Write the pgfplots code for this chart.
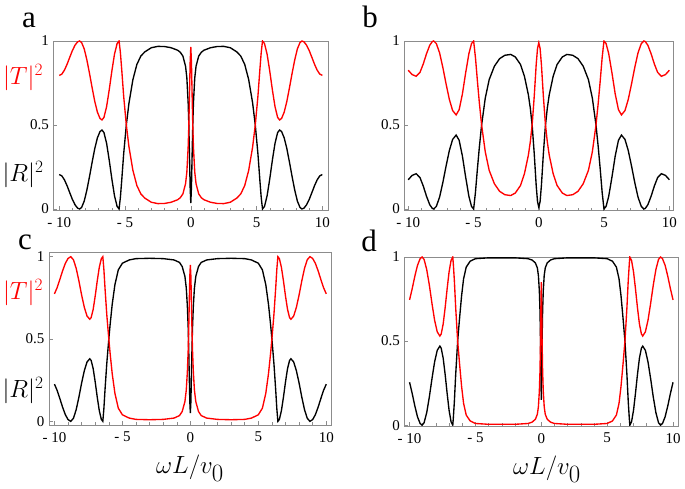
\documentclass[border=0pt]{standalone}
\usepackage{fontspec}
\setmainfont{Liberation Serif}
\usepackage{pgfplots}
\usepackage{pgfplotstable}
\pgfplotsset{compat=1.18}

% panel a
\pgfplotstableread{
x R T
-10 0.205 0.795
-9.8 0.197 0.803
-9.6 0.173 0.827
-9.4 0.138 0.862
-9.2 0.097 0.903
-9.0 0.057 0.943
-8.8 0.025 0.975
-8.6 0.005 0.995
-8.45 0 1
-8.3 0.009 0.991
-8.1 0.047 0.953
-7.9 0.112 0.888
-7.7 0.192 0.808
-7.5 0.278 0.722
-7.3 0.359 0.641
-7.1 0.423 0.577
-6.9 0.461 0.539
-6.75 0.47 0.53
-6.6 0.455 0.545
-6.4 0.391 0.609
-6.2 0.291 0.709
-6.0 0.179 0.821
-5.8 0.079 0.921
-5.6 0.015 0.985
-5.45 0 1
-5.35 0.07 0.93
-5.25 0.17 0.83
-5.1 0.33 0.67
-4.9 0.5 0.5
-4.7 0.63 0.37
-4.4 0.77 0.23
-4.1 0.86 0.14
-3.8 0.91 0.09
-3.5 0.935 0.065
-3.0 0.96 0.04
-2.5 0.968 0.032
-2.0 0.967 0.033
-1.5 0.96 0.04
-1.0 0.945 0.055
-0.8 0.933 0.067
-0.6 0.91 0.09
-0.4 0.85 0.15
-0.3 0.78 0.22
-0.2 0.63 0.37
-0.15 0.5 0.5
-0.1 0.32 0.68
-0.05 0.13 0.87
0 0.035 0.965
0.05 0.13 0.87
0.1 0.32 0.68
0.15 0.5 0.5
0.2 0.63 0.37
0.3 0.78 0.22
0.4 0.85 0.15
0.6 0.91 0.09
0.8 0.933 0.067
1.0 0.945 0.055
1.5 0.96 0.04
2.0 0.967 0.033
2.5 0.968 0.032
3.0 0.96 0.04
3.5 0.935 0.065
3.8 0.91 0.09
4.1 0.86 0.14
4.4 0.77 0.23
4.7 0.63 0.37
4.9 0.5 0.5
5.1 0.33 0.67
5.25 0.17 0.83
5.35 0.07 0.93
5.45 0 1
5.6 0.015 0.985
5.8 0.079 0.921
6.0 0.179 0.821
6.2 0.291 0.709
6.4 0.391 0.609
6.6 0.455 0.545
6.75 0.47 0.53
6.9 0.461 0.539
7.1 0.423 0.577
7.3 0.359 0.641
7.5 0.278 0.722
7.7 0.192 0.808
7.9 0.112 0.888
8.1 0.047 0.953
8.3 0.009 0.991
8.45 0 1
8.6 0.005 0.995
8.8 0.025 0.975
9.0 0.057 0.943
9.2 0.097 0.903
9.4 0.138 0.862
9.6 0.173 0.827
9.8 0.197 0.803
10 0.205 0.795
}\dataA

% panel b
\pgfplotstableread{
x R T
-10 0.174 0.826
-9.7 0.2 0.8
-9.39 0.21 0.79
-9.1 0.187 0.813
-8.85 0.137 0.863
-8.6 0.076 0.924
-8.35 0.025 0.975
-8.15 0.003 0.997
-8.05 0 1
-7.85 0.015 0.985
-7.6 0.07 0.93
-7.35 0.157 0.843
-7.1 0.256 0.744
-6.85 0.348 0.652
-6.6 0.414 0.586
-6.33 0.44 0.56
-6.1 0.409 0.591
-5.85 0.315 0.685
-5.6 0.189 0.811
-5.35 0.074 0.926
-5.15 0.015 0.985
-4.99 0 1
-4.85 0.1 0.9
-4.7 0.24 0.76
-4.55 0.37 0.63
-4.38 0.5 0.5
-4.1 0.66 0.34
-3.8 0.77 0.23
-3.4 0.85 0.15
-3.0 0.895 0.105
-2.6 0.915 0.085
-2.15 0.92 0.08
-1.8 0.905 0.095
-1.4 0.86 0.14
-1.1 0.79 0.21
-0.8 0.68 0.32
-0.65 0.6 0.4
-0.5 0.49 0.51
-0.35 0.33 0.67
-0.2 0.14 0.86
-0.1 0.045 0.955
0 0.01 0.99
0.1 0.045 0.955
0.2 0.14 0.86
0.35 0.33 0.67
0.5 0.49 0.51
0.65 0.6 0.4
0.8 0.68 0.32
1.1 0.79 0.21
1.4 0.86 0.14
1.8 0.905 0.095
2.15 0.92 0.08
2.6 0.915 0.085
3.0 0.895 0.105
3.4 0.85 0.15
3.8 0.77 0.23
4.1 0.66 0.34
4.38 0.5 0.5
4.55 0.37 0.63
4.7 0.24 0.76
4.85 0.1 0.9
4.99 0 1
5.15 0.015 0.985
5.35 0.074 0.926
5.6 0.189 0.811
5.85 0.315 0.685
6.1 0.409 0.591
6.33 0.44 0.56
6.6 0.414 0.586
6.85 0.348 0.652
7.1 0.256 0.744
7.35 0.157 0.843
7.6 0.07 0.93
7.85 0.015 0.985
8.05 0 1
8.15 0.003 0.997
8.35 0.025 0.975
8.6 0.076 0.924
8.85 0.137 0.863
9.1 0.187 0.813
9.39 0.21 0.79
9.7 0.2 0.8
10 0.174 0.826
}\dataB

% panel c
\pgfplotstableread{
x R T
-10 0.226 0.774
-9.8 0.188 0.812
-9.6 0.138 0.862
-9.4 0.086 0.914
-9.2 0.041 0.959
-9.0 0.011 0.989
-8.8 0 1
-8.6 0.019 0.981
-8.4 0.071 0.929
-8.2 0.147 0.853
-8.0 0.233 0.767
-7.8 0.308 0.692
-7.6 0.361 0.639
-7.4 0.38 0.62
-7.3 0.37 0.63
-7.15 0.32 0.68
-7.0 0.239 0.761
-6.85 0.147 0.853
-6.7 0.065 0.935
-6.55 0.012 0.988
-6.44 0 1
-6.36 0.08 0.92
-6.28 0.19 0.81
-6.15 0.35 0.65
-6.0 0.5 0.5
-5.9 0.59 0.41
-5.75 0.71 0.29
-5.55 0.83 0.17
-5.3 0.92 0.08
-5.0 0.96 0.04
-4.5 0.98 0.02
-4.0 0.988 0.012
-3.0 0.99 0.01
-2.0 0.988 0.012
-1.2 0.98 0.02
-0.8 0.965 0.035
-0.6 0.94 0.06
-0.4 0.88 0.12
-0.3 0.81 0.19
-0.22 0.7 0.3
-0.16 0.57 0.43
-0.12 0.44 0.56
-0.08 0.28 0.72
-0.04 0.12 0.88
0 0.05 0.95
0.04 0.12 0.88
0.08 0.28 0.72
0.12 0.44 0.56
0.16 0.57 0.43
0.22 0.7 0.3
0.3 0.81 0.19
0.4 0.88 0.12
0.6 0.94 0.06
0.8 0.965 0.035
1.2 0.98 0.02
2.0 0.988 0.012
3.0 0.99 0.01
4.0 0.988 0.012
4.5 0.98 0.02
5.0 0.96 0.04
5.3 0.92 0.08
5.55 0.83 0.17
5.75 0.71 0.29
5.9 0.59 0.41
6.0 0.5 0.5
6.15 0.35 0.65
6.28 0.19 0.81
6.36 0.08 0.92
6.44 0 1
6.55 0.012 0.988
6.7 0.065 0.935
6.85 0.147 0.853
7.0 0.239 0.761
7.15 0.32 0.68
7.3 0.37 0.63
7.4 0.38 0.62
7.6 0.361 0.639
7.8 0.308 0.692
8.0 0.233 0.767
8.2 0.147 0.853
8.4 0.071 0.929
8.6 0.019 0.981
8.8 0 1
9.0 0.011 0.989
9.2 0.041 0.959
9.4 0.086 0.914
9.6 0.138 0.862
9.8 0.188 0.812
10 0.226 0.774
}\dataC

% panel d
\pgfplotstableread{
x R T
-10 0.255 0.745
-9.8 0.188 0.812
-9.6 0.114 0.886
-9.4 0.05 0.95
-9.2 0.01 0.99
-9.05 0 1
-8.9 0.014 0.986
-8.7 0.074 0.926
-8.5 0.167 0.833
-8.3 0.276 0.724
-8.1 0.376 0.624
-7.9 0.445 0.555
-7.7 0.47 0.53
-7.6 0.458 0.542
-7.45 0.399 0.601
-7.3 0.302 0.698
-7.15 0.19 0.81
-7.0 0.088 0.912
-6.85 0.02 0.98
-6.72 0 1
-6.68 0.04 0.96
-6.6 0.14 0.86
-6.5 0.3 0.7
-6.35 0.5 0.5
-6.2 0.64 0.36
-6.05 0.77 0.23
-5.9 0.87 0.13
-5.7 0.94 0.06
-5.4 0.975 0.025
-5.0 0.99 0.01
-4.0 0.995 0.005
-2.0 0.995 0.005
-1.0 0.99 0.01
-0.7 0.982 0.018
-0.45 0.965 0.035
-0.3 0.935 0.065
-0.22 0.89 0.11
-0.15 0.8 0.2
-0.1 0.68 0.32
-0.06 0.5 0.5
-0.03 0.3 0.7
0 0.15 0.85
0.03 0.3 0.7
0.06 0.5 0.5
0.1 0.68 0.32
0.15 0.8 0.2
0.22 0.89 0.11
0.3 0.935 0.065
0.45 0.965 0.035
0.7 0.982 0.018
1.0 0.99 0.01
2.0 0.995 0.005
4.0 0.995 0.005
5.0 0.99 0.01
5.4 0.975 0.025
5.7 0.94 0.06
5.9 0.87 0.13
6.05 0.77 0.23
6.2 0.64 0.36
6.35 0.5 0.5
6.5 0.3 0.7
6.6 0.14 0.86
6.68 0.04 0.96
6.72 0 1
6.85 0.02 0.98
7.0 0.088 0.912
7.15 0.19 0.81
7.3 0.302 0.698
7.45 0.399 0.601
7.6 0.458 0.542
7.7 0.47 0.53
7.9 0.445 0.555
8.1 0.376 0.624
8.3 0.276 0.724
8.5 0.167 0.833
8.7 0.074 0.926
8.9 0.014 0.986
9.05 0 1
9.2 0.01 0.99
9.4 0.05 0.95
9.6 0.114 0.886
9.8 0.188 0.812
10 0.255 0.745
}\dataD

\pgfplotsset{
  panel/.style={
    scale only axis,
    anchor=south west,
    axis line style={draw=black!45, line width=0.6pt},
    tick style={draw=black!45, line width=0.5pt},
    tick align=inside,
    major tick length=4pt,
    minor tick length=2.5pt,
    xtick={-10,-5,0,5,10},
    xticklabels={-\ 10,-\ 5,0,5,10},
    minor xtick={-9,-8,...,9},
    ytick={0,0.5,1},
    yticklabels={0,0.5,1},
    xtick pos=bottom,
    ytick pos=left,
    tick label style={font=\fontsize{15}{15}\selectfont},
    xticklabel style={yshift=-3.5pt},
    yticklabel style={xshift=-1pt},
  },
  Rline/.style={black, line width=1.35pt},
  Tline/.style={red, line width=1.35pt},
}

\begin{document}
\begin{tikzpicture}
\path[use as bounding box] (0pt,0pt) rectangle (685pt,489pt);

% a
\begin{axis}[panel, at={(53.3pt,278.5pt)}, width=275pt, height=169.5pt,
  xmin=-10.45, xmax=10.45, ymin=-0.009, ymax=1]
\addplot[Rline] table[x=x, y=R] {\dataA};
\addplot[Tline] table[x=x, y=T] {\dataA};
\end{axis}

% b
\begin{axis}[panel, at={(404.3pt,278.5pt)}, width=269pt, height=169.5pt,
  xmin=-10.3, xmax=10.3, ymin=-0.009, ymax=1]
\addplot[Rline] table[x=x, y=R] {\dataB};
\addplot[Tline] table[x=x, y=T] {\dataB};
\end{axis}

% c
\begin{axis}[panel, at={(49pt,64pt)}, width=282.7pt, height=172.3pt,
  xmin=-10.4, xmax=10.4, ymin=-0.022, ymax=1.024]
\addplot[Rline] table[x=x, y=R] {\dataC};
\addplot[Tline] table[x=x, y=T] {\dataC};
\end{axis}

% d
\begin{axis}[panel, at={(404.3pt,63pt)}, width=274pt, height=169pt,
  xmin=-10.4, xmax=10.4, ymin=-0.005, ymax=1]
\addplot[Rline] table[x=x, y=R] {\dataD};
\addplot[Tline] table[x=x, y=T] {\dataD};
\end{axis}

% panel letters
\node[anchor=base, font=\fontsize{31}{31}\selectfont] at (29pt,461pt) {a};
\node[anchor=base, font=\fontsize{31}{31}\selectfont] at (370pt,461pt) {b};
\node[anchor=base, font=\fontsize{31}{31}\selectfont] at (25pt,239pt) {c};
\node[anchor=base, font=\fontsize{31}{31}\selectfont] at (369pt,237pt) {d};

% axis labels
\node[anchor=base, red, font=\fontsize{27}{27}\selectfont] at (23pt,404pt) {$|T|^2$};
\node[anchor=base, font=\fontsize{27}{27}\selectfont] at (23pt,307pt) {$|R|^2$};
\node[anchor=base, red, font=\fontsize{27}{27}\selectfont] at (23pt,189pt) {$|T|^2$};
\node[anchor=base, font=\fontsize{27}{27}\selectfont] at (23pt,91pt) {$|R|^2$};
\node[anchor=base, font=\fontsize{37}{37}\selectfont] at (190pt,15pt) {$\omega L/v_0$};
\node[anchor=base, font=\fontsize{37}{37}\selectfont] at (547pt,14pt) {$\omega L/v_0$};
\end{tikzpicture}
\end{document}
